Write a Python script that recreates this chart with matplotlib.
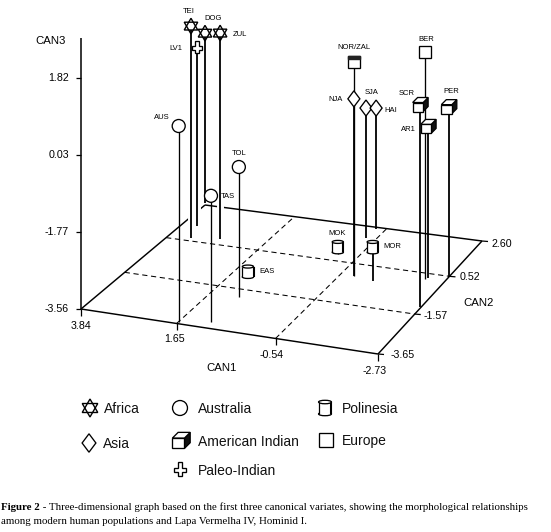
"""3D canonical variates figure, drawn on a pixel-sized canvas with a small floor projection."""
import numpy as np
import matplotlib
matplotlib.use("Agg")
import matplotlib.pyplot as plt
from matplotlib.patches import Polygon, Circle, Ellipse, Rectangle

plt.rcParams["font.family"] = ["Liberation Sans", "DejaVu Sans"]

# data
NAMES = ["TEI", "LV1", "DOG", "ZUL", "AUS", "TOL", "TAS", "EAS", "MOK", "MOR",
         "NOR/ZAL", "NJA", "SJA", "HAI", "BER", "SCR", "AR1", "PER"]
GROUPS = ["Africa", "Paleo-Indian", "Africa", "Africa", "Australia", "Australia", "Australia",
          "Polinesia", "Polinesia", "Polinesia", "Norse", "Asia", "Asia", "Asia",
          "Europe", "American Indian", "American Indian", "American Indian"]
CAN1 = [3.31, 3.48, 3.89, 2.68, 1.64, 1.00, 1.02, 1.25, -0.07, -1.31,
        -0.84, -0.84, -0.31, -0.33, -2.30, -2.71, -2.34, -2.73]
CAN2 = [0.68, 1.37, 2.71, 0.84, -3.57, -1.97, -3.34, -0.92, 0.89, -0.25,
        -0.13, -0.13, 1.94, 2.50, 0.22, -1.20, 0.29, 0.48]
CAN3 = [1.38, 0.59, 0.40, 1.24, 1.01, -0.53, -0.62, -3.44, -3.40, -2.77,
        1.43, 0.57, -0.53, -0.74, 1.73, 1.15, -0.04, 0.40]

CAN1_TICKS = [3.84, 1.65, -0.54, -2.73]
CAN2_TICKS = [-3.65, -1.57, 0.52, 2.60]
CAN3_TICKS = [-3.56, -1.77, 0.03, 1.82]
LEGEND_ROWS = [("Africa", 90, 408, 104), ("Australia", 180, 408, 198), ("Polinesia", 325, 408, 342),
               ("Asia", 89, 443, 103), ("American Indian", 181, 441, 198), ("Europe", 326, 440, 342),
               ("Paleo-Indian", 180, 470, 198)]
CAPTION_BOLD = "Figure 2"
CAPTION_1 = (" - Three-dimensional graph based on the first three canonical variates, "
             "showing the morphological relationships")
CAPTION_2 = "among modern human populations and Lapa Vermelha IV, Hominid I."

# layout
CORNERS = np.array([[81, 309], [378, 354], [482, 241], [205, 205]], float)
Z_SCALE = 42.9
THIN = {"NOR/ZAL", "BER", "TOL", "AUS", "TAS", "MOK", "EAS"}
HALO = {"TEI", "LV1", "ZUL"}
LABEL_OFF = {"TEI": (-2, -15), "DOG": (8, -15), "ZUL": (20, 1), "LV1": (-21, 0), "AUS": (-17, -9),
             "TOL": (0, -14), "TAS": (17, 1), "EAS": (19, 0), "MOK": (-1, -14), "MOR": (20, -1),
             "NOR/ZAL": (0, -14), "NJA": (-18, 1), "SJA": (6, -16), "HAI": (15, 2), "BER": (1, -12),
             "SCR": (-13, -12), "AR1": (-20, 3), "PER": (2, -16)}


def floor_matrix():
    x0, x1, y0, y1 = CAN1_TICKS[0], CAN1_TICKS[-1], CAN2_TICKS[0], CAN2_TICKS[-1]
    src = [(x0, y0), (x1, y0), (x1, y1), (x0, y1)]
    A, b = [], []
    for (x, y), (u, v) in zip(src, CORNERS):
        A.append([x, y, 1, 0, 0, 0, -u * x, -u * y]); b.append(u)
        A.append([0, 0, 0, x, y, 1, -v * x, -v * y]); b.append(v)
    return np.append(np.linalg.solve(np.array(A), np.array(b)), 1).reshape(3, 3)


H = floor_matrix()


def project(c1, c2, c3=CAN3_TICKS[0]):
    p = H @ np.array([c1, c2, 1.0])
    return p[0] / p[2], p[1] / p[2] - (c3 - CAN3_TICKS[0]) * Z_SCALE


def line(ax, a, b, **kw):
    kw.setdefault("color", "black"); kw.setdefault("lw", 1.05); kw.setdefault("solid_capstyle", "butt")
    ax.plot([a[0], b[0]], [a[1], b[1]], **kw)


def draw_marker(ax, kind, x, y, k=1.0, z=5):
    style = dict(facecolor="white", edgecolor="black", linewidth=0.95, zorder=z)
    if kind == "Africa":
        r = 7.8 * k
        for sign in (1, -1):
            ang = np.radians([90, 210, 330])
            pts = np.column_stack([x + r * np.cos(ang), y - sign * r * np.sin(ang)])
            ax.add_patch(Polygon(pts, closed=True, fill=sign == 1, **{**style, "linewidth": 1.0}))
    elif kind == "Australia":
        ax.add_patch(Circle((x, y), 6.5 * k, **style))
    elif kind == "Asia":
        ax.add_patch(Polygon([(x, y - 8 * k), (x + 6 * k, y), (x, y + 8 * k), (x - 6 * k, y)], **style))
    elif kind == "Paleo-Indian":
        a, b = 1.8 * k, 5 * k
        c = 1.8 * k
        ax.add_patch(Polygon([(x - a, y - b - c), (x + a, y - b - c), (x + a, y - a), (x + b, y - a), (x + b, y + a),
                              (x + a, y + a), (x + a, y + b), (x - a, y + b), (x - a, y + a), (x - b, y + a),
                              (x - b, y - a), (x - a, y - a)], **style))
    elif kind in ("Europe", "Norse"):
        s = 5.8 * k
        ax.add_patch(Rectangle((x - s, y - s), 2 * s, 2 * s, **style))
        if kind == "Norse":
            ax.add_patch(Rectangle((x - s, y - s), 2 * s, 3, color="#222222", zorder=z + 0.1))
    elif kind == "American Indian":
        dx, dy = 5 * k, 5 * k
        l, r, t, b = x - 7.5 * k, x + 3 * k, y - 2.5 * k, y + 6.5 * k
        ax.add_patch(Polygon([(r, t), (r + dx, t - dy), (r + dx, b - dy), (r, b)], facecolor="#111111",
                             edgecolor="black", linewidth=0.9, zorder=z))
        ax.add_patch(Polygon([(l, t), (l + dx, t - dy), (r + dx, t - dy), (r, t)], **style))
        ax.add_patch(Rectangle((l, t), r - l, b - t, **style))
    elif kind == "Polinesia":
        w, h = 5.6 * k, 5.2 * k
        ax.add_patch(Ellipse((x, y + h), 2 * w, 3 * k, **style))
        ax.add_patch(Rectangle((x - w, y - h), 2 * w, 2 * h, facecolor="white", edgecolor="none", zorder=z))
        line(ax, (x - w, y - h), (x - w, y + h), zorder=z, lw=0.9)
        line(ax, (x + w, y - h), (x + w, y + h), zorder=z, lw=1.5)
        ax.add_patch(Ellipse((x, y - h), 2 * w, 3 * k, **style))


def draw_floor(ax):
    c1a, c1b, c2a, c2b = CAN1_TICKS[0], CAN1_TICKS[-1], CAN2_TICKS[0], CAN2_TICKS[-1]
    for a, b in [((c1a, c2a), (c1b, c2a)), ((c1b, c2a), (c1b, c2b)), ((c1b, c2b), (c1a, c2b)), ((c1a, c2b), (c1a, c2a))]:
        line(ax, project(*a), project(*b), zorder=1)
    dash = dict(lw=0.75, ls=(0, (5, 3.5)), zorder=1, dash_capstyle="butt")
    for c in CAN1_TICKS[1:-1]:
        line(ax, project(c, c2a), project(c, c2b), **dash)
    for c in CAN2_TICKS[1:-1]:
        line(ax, project(c1a, c), project(c1b, c), **dash)
    # tick marks and labels
    for c, (dx, dy) in zip(CAN1_TICKS, [(0, 17), (-2, 16), (-4, 17), (-3, 17)]):
        x, y = project(c, c2a)
        line(ax, (x, y), (x, y + 7), lw=0.9)
        ax.text(x + dx, y + dy, f"{c:.2f}", ha="center", va="center", fontsize=7.7)
    for c, (dx, dy) in zip(CAN2_TICKS, [(13, 1), (9, 2), (10, 1), (9, 3)]):
        x, y = project(c1b, c)
        line(ax, (x, y), (x + 6, y + 0.5), lw=0.9)
        ax.text(x + dx, y + dy, f"{c:.2f}", ha="left", va="center", fontsize=7.7)
    x0, y0 = project(c1a, c2a)
    line(ax, (x0, y0), (x0, 38), lw=1.1, zorder=1)
    for c in CAN3_TICKS:
        x, y = project(c1a, c2a, c)
        line(ax, (x - 5, y), (x, y), lw=0.9)
        ax.text(69, y, f"{c:.2f}", ha="right", va="center", fontsize=7.7)
    ax.text(222, 368, "CAN1", ha="center", va="center", fontsize=8.2)
    ax.text(479, 303, "CAN2", ha="center", va="center", fontsize=8.2)
    ax.text(51, 41, "CAN3", ha="center", va="center", fontsize=8.2)


def main():
    fig = plt.figure(figsize=(5.51, 5.32), dpi=100)
    ax = fig.add_axes([0, 0, 1, 1])
    ax.set_xlim(0, 551); ax.set_ylim(532, 0); ax.axis("off")

    draw_floor(ax)
    for i, name in enumerate(NAMES):
        base = project(CAN1[i], CAN2[i])
        top = project(CAN1[i], CAN2[i], CAN3[i])
        z = 2 + i * 0.01
        if name in HALO:
            line(ax, (base[0], base[1] - 8), (top[0], base[1] - 40), color="white", lw=5, zorder=1.5)
        line(ax, base, top, lw=0.95 if name in THIN else 1.3, zorder=z)
        draw_marker(ax, GROUPS[i], top[0], top[1], z=3 + i * 0.01)
        dx, dy = LABEL_OFF[name]
        ax.text(top[0] + dx, top[1] + dy, name, ha="center", va="center", fontsize=5.5, zorder=6)

    for kind, mx, my, tx in LEGEND_ROWS:
        draw_marker(ax, kind, mx, my, k=1.15)
        ax.text(tx, my + 1, kind, ha="left", va="center", fontsize=10, color="#111111")

    cap = dict(family=["Liberation Serif", "DejaVu Serif"], fontsize=7.85, va="center")
    t = ax.text(1, 507, CAPTION_BOLD, fontweight="bold", **cap)
    fig.canvas.draw()
    w = t.get_window_extent().width
    ax.text(1 + w, 507, CAPTION_1, **cap)
    ax.text(1, 521, CAPTION_2, **cap)
    fig.savefig("out.png", dpi=100)
    plt.close(fig)


if __name__ == "__main__":
    main()
